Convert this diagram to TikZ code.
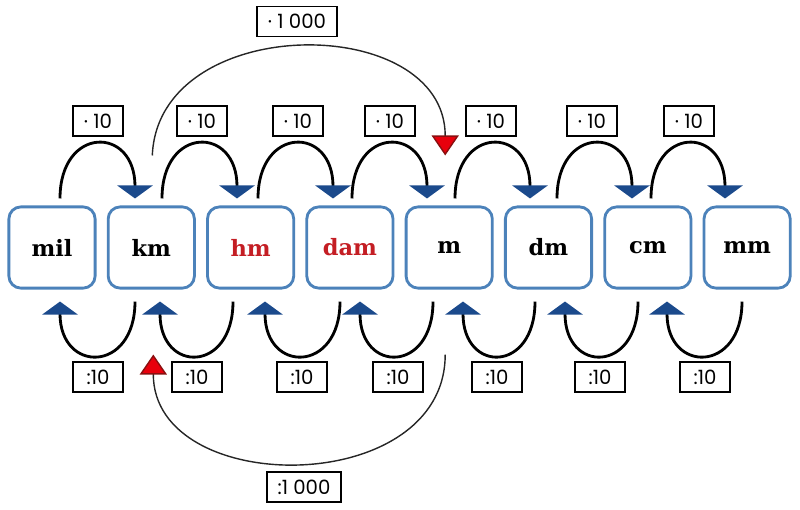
\documentclass[tikz,border=0pt]{standalone}
\usepackage{fontspec}
\setmainfont{DejaVu Serif}
\newfontfamily\labfont{Poppins}
\usetikzlibrary{arrows.meta,calc}
\definecolor{boxblue}{HTML}{4C82BA}
\definecolor{navy}{HTML}{1B4A8C}
\definecolor{tred}{HTML}{E8000C}
\definecolor{tredline}{HTML}{8A1010}
\definecolor{unitred}{HTML}{C41E24}
\begin{document}
\begin{tikzpicture}[x=0.025cm,y=0.025cm,
  unitbox/.style={draw=boxblue, line width=2pt, rounded corners=0.3cm, fill=white,
    minimum width=2.155cm, minimum height=2.03cm, inner sep=0pt,
    font=\fontsize{16}{18}\selectfont\bfseries},
  lab/.style={draw=black, line width=0.9pt, fill=white, minimum width=1.25cm,
    minimum height=0.75cm, inner sep=0pt, font=\labfont\fontsize{14}{16}\selectfont},
  hop/.style={line width=2pt, black,
    -{Triangle[width=0.875cm,length=0.325cm,color=navy]}},
  jump/.style={line width=1pt, black!85,
    -{Triangle[width=0.675cm,length=0.5cm,color=tredline,fill=tred]}}]
\useasboundingbox (0,0) rectangle (800,509);
% unit boxes
\foreach \n/\x/\t/\c in {1/52/mil/black, 2/151.3/km/black, 3/250.6/hm/unitred,
  4/349.9/dam/unitred, 5/449.2/m/black, 6/548.5/dm/black, 7/647.8/cm/black, 8/747.1/mm/black}
  \node[unitbox, text=\c] (b\n) at (\x,261.5) {\t};
% top hops (multiply by 10)
\foreach \i/\j/\s/\t in {1/2/8/-16.3, 2/3/10.7/-13.6, 3/4/7.4/-16.9, 4/5/2.1/-22.2,
  5/6/5.8/-18.5, 6/7/8.5/-15.8, 7/8/3.2/-22.1}
  \draw[hop] ($(b\i.north)+(\s,7)$) .. controls +(0,73) and +(0,73) .. ($(b\j.north)+(\t,7)$);
% bottom hops (divide by 10)
\foreach \i/\j/\t/\s in {1/2/8/-16.3, 2/3/8.7/-17.6, 3/4/14.4/-9.9, 4/5/10.1/-16.2,
  5/6/13.8/-13.5, 6/7/16.5/-9.8, 7/8/19.2/-5.1}
  \draw[hop] ($(b\j.south)+(\s,-12)$) .. controls +(0,-72) and +(0,-72) .. ($(b\i.south)+(\t,-12)$);
% big jumps
\draw[jump] ($(b2.north)+(1,50)$) .. controls +(6,144) and +(0,144) .. ($(b5.north)+(-4,50)$);
\draw[jump] ($(b5.south)+(-4,-65)$) .. controls +(0,-144) and +(0,-144) .. ($(b2.south)+(2,-65)$);
% labels
\foreach \k/\x in {1/98,2/202,3/298,4/390,5/491,6/592,7/689}
  \node[lab] (t\k) at (\x,388) {· 10};
\foreach \k/\x in {1/98,2/197,3/302,4/398,5/497,6/600,7/705}
  \node[lab] (l\k) at (\x,132) {:10};
\node[lab, minimum width=2cm] (T) at (297,487.5) {· 1 000};
\node[lab, minimum width=1.85cm] (B) at (304,22) {:1 000};
\end{tikzpicture}
\end{document}
